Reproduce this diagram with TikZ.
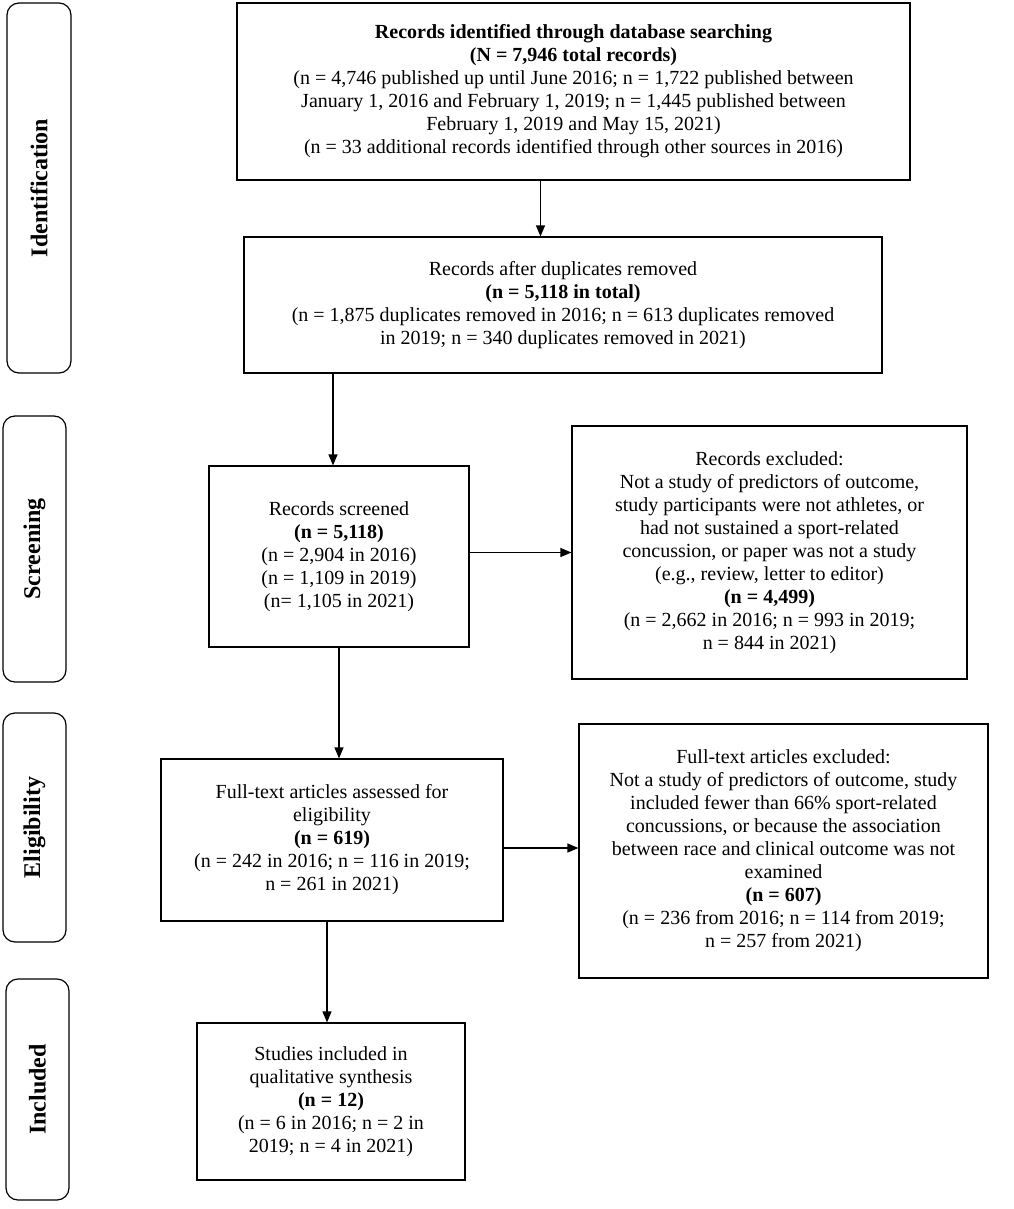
\documentclass[tikz,border=0pt]{standalone}
\usepackage{fontspec}
\setmainfont{Liberation Serif}
\usetikzlibrary{arrows.meta,positioning}

\begin{document}
\begin{tikzpicture}[x=1pt, y=-1pt,
	box/.style   = {draw, line width=1.2pt, align=center, inner sep=4pt},
	phase/.style = {draw, line width=1.2pt, rounded corners=12pt, rotate=90,
		font=\fontsize{24}{27}\selectfont\bfseries},
	arr/.style   = {line width=1.2pt, -{Triangle[length=11pt, width=9pt]}},
	every node/.style = {font=\fontsize{20}{23}\selectfont}]
	\useasboundingbox (0,0) rectangle (1013,1209);
	% phase bars on the left
	\node[phase, minimum width=370pt, minimum height=64pt] (pid)  at (39,188)   {Identification};
	\node[phase, minimum width=266pt, minimum height=63pt] (pscr) at (34.5,549) {Screening};
	\node[phase, minimum width=229pt, minimum height=63pt] (pel)  at (34.5,827.5) {Eligibility};
	\node[phase, minimum width=221pt, minimum height=63pt] (pinc) at (37.5,1089.5) {Included};
	% boxes of the flow
	\node[box, minimum width=673pt, minimum height=177pt] (ident) at (573.5,91.5) {%
		\textbf{Records identified through database searching}\\
		\textbf{(N = 7,946 total records)}\\
		(n = 4,746 published up until June 2016; n = 1,722 published between\\
		January 1, 2016 and February 1, 2019; n = 1,445 published between\\
		February 1, 2019 and May 15, 2021)\\
		(n = 33 additional records identified through other sources in 2016)};
	\node[box, minimum width=638pt, minimum height=136pt] (dup) at (563,305) {%
		Records after duplicates removed\\
		\textbf{(n = 5,118 in total)}\\
		(n = 1,875 duplicates removed in 2016; n = 613 duplicates removed\\
		in 2019; n = 340 duplicates removed in 2021)};
	\node[box, minimum width=260pt, minimum height=181pt] (scr) at (339,556.5) {%
		Records screened\\
		\textbf{(n = 5,118)}\\
		(n = 2,904 in 2016)\\
		(n = 1,109 in 2019)\\
		(n= 1,105 in 2021)};
	\node[box, minimum width=395pt, minimum height=253pt] (exc) at (769.5,552.5) {%
		Records excluded:\\
		Not a study of predictors of outcome,\\
		study participants were not athletes, or\\
		had not sustained a sport-related\\
		concussion, or paper was not a study\\
		(e.g., review, letter to editor)\\
		\textbf{(n = 4,499)}\\
		(n = 2,662 in 2016; n = 993 in 2019;\\
		n = 844 in 2021)};
	\node[box, minimum width=342pt, minimum height=162pt] (full) at (332,840) {%
		Full-text articles assessed for\\
		eligibility\\
		\textbf{(n = 619)}\\
		(n = 242 in 2016; n = 116 in 2019;\\
		n = 261 in 2021)};
	\node[box, minimum width=409pt, minimum height=254pt] (fexc) at (783.5,851) {%
		Full-text articles excluded:\\
		Not a study of predictors of outcome, study\\
		included fewer than 66\% sport-related\\
		concussions, or because the association\\
		between race and clinical outcome was not\\
		examined\\
		\textbf{(n = 607)}\\
		(n = 236 from 2016; n = 114 from 2019;\\
		n = 257 from 2021)};
	\node[box, minimum width=268pt, minimum height=157pt] (inc) at (331,1101.5) {%
		Studies included in\\
		qualitative synthesis\\
		\textbf{(n = 12)}\\
		(n = 6 in 2016; n = 2 in\\
		2019; n = 4 in 2021)};
	% arrows
	\draw[arr] ([xshift=-33pt]ident.south) -- ([xshift=-33pt]ident.south |- dup.north);
	\draw[arr] ([xshift=-6pt]scr.north |- dup.south) -- ([xshift=-6pt]scr.north);
	\draw[arr] (scr.east |- exc.west) -- (exc.west);
	\draw[arr] (scr.south) -- (scr.south |- full.north);
	\draw[arr] ([yshift=-8pt]full.east) -- ([yshift=-8pt]full.east -| fexc.west);
	\draw[arr] ([xshift=-5pt]full.south) -- ([xshift=-5pt]full.south |- inc.north);
\end{tikzpicture}
\end{document}
